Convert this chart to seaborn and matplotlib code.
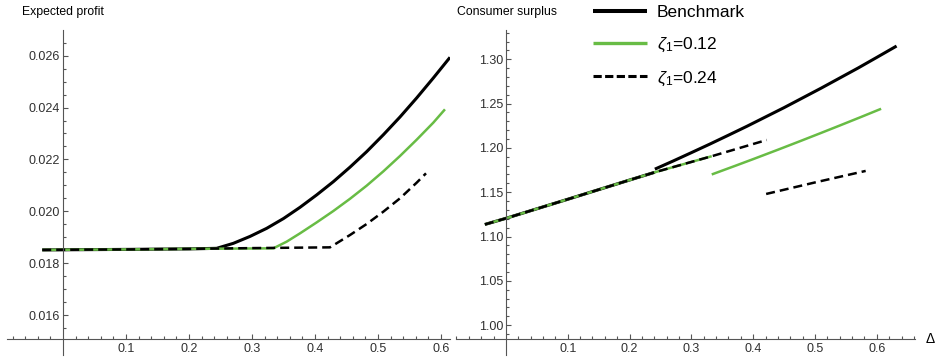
import numpy as np
import pandas as pd
import matplotlib
matplotlib.use("Agg")
import matplotlib.pyplot as plt
from matplotlib.lines import Line2D
import seaborn as sns

# ---- Expected profit against Delta ----
profit_bench_x = [-0.033, 0.10, 0.20, 0.2439, 0.2704, 0.2968, 0.3233, 0.3500,
                  0.3762, 0.4026, 0.4291, 0.4555, 0.4820, 0.5085, 0.5349,
                  0.5614, 0.5878, 0.6143]
profit_bench_y = [0.01851, 0.01853, 0.01855, 0.018571, 0.018764, 0.019030,
                  0.019342, 0.019720, 0.020152, 0.020630, 0.021141, 0.021700,
                  0.022298, 0.022950, 0.023635, 0.024370, 0.025139, 0.025936]

profit_z12_x = [-0.033, 0.10, 0.20, 0.3339, 0.3550, 0.3762, 0.4026, 0.4291,
                0.4555, 0.4820, 0.5085, 0.5349, 0.5614, 0.5878, 0.6063]
profit_z12_y = [0.01851, 0.01853, 0.01855, 0.018571, 0.018828, 0.019149,
                0.019570, 0.020010, 0.020480, 0.020987, 0.021540, 0.022131,
                0.022760, 0.023417, 0.023931]

profit_z24_x = [-0.033, 0.10, 0.20, 0.30, 0.4238, 0.4556, 0.4820, 0.5085,
                0.5349, 0.5614, 0.5762]
profit_z24_y = [0.01851, 0.01853, 0.01855, 0.01858, 0.018609, 0.019085,
                0.019509, 0.019985, 0.020499, 0.021103, 0.021463]

# ---- Consumer surplus against Delta (piecewise, with jumps) ----
cs_bench_low_x = [-0.034, 0.0, 0.10, 0.20, 0.241]
cs_bench_low_y = [1.1136, 1.1205, 1.1420, 1.1637, 1.1725]
cs_bench_high_x = [0.241, 0.27, 0.30, 0.33, 0.36, 0.39, 0.42, 0.45, 0.48,
                   0.51, 0.54, 0.57, 0.60, 0.632]
cs_bench_high_y = [1.1760, 1.1850, 1.1946, 1.2043, 1.2143, 1.2244, 1.2349,
                   1.2454, 1.2564, 1.2674, 1.2788, 1.2902, 1.3021, 1.3149]

cs_z12_low_x = [-0.034, 0.0, 0.10, 0.20, 0.241, 0.333]
cs_z12_low_y = [1.1136, 1.1205, 1.1420, 1.1637, 1.1725, 1.1906]
cs_z12_high_x = [0.333, 0.37, 0.40, 0.44, 0.476, 0.51, 0.54, 0.575, 0.607]
cs_z12_high_y = [1.1700, 1.1795, 1.1873, 1.1979, 1.2076, 1.2169, 1.2252,
                 1.2350, 1.2441]

cs_z24_low_x = [-0.034, 0.0, 0.10, 0.20, 0.241, 0.336, 0.422]
cs_z24_low_y = [1.1136, 1.1205, 1.1420, 1.1637, 1.1725, 1.1912, 1.2089]
cs_z24_high_x = [0.421, 0.50, 0.582]
cs_z24_high_y = [1.148, 1.161, 1.174]

series_labels = ["Benchmark", r"$\zeta_1$=0.12", r"$\zeta_1$=0.24"]
profit_tick_labels = ["0.016", "0.018", "0.020", "0.022", "0.024", "0.026"]
cs_tick_labels = ["1.00", "1.05", "1.10", "1.15", "1.20", "1.25", "1.30"]
delta_tick_labels = ["0.1", "0.2", "0.3", "0.4", "0.5", "0.6"]

sns.set_style("white")
plt.rcParams["font.family"] = ["Liberation Sans", "DejaVu Sans"]
plt.rcParams["mathtext.fontset"] = "custom"
plt.rcParams["mathtext.rm"] = "Liberation Sans"
plt.rcParams["mathtext.it"] = "Liberation Sans:italic"

BLACK = "#000000"
GREEN = "#68bc45"
AXIS = "#555555"
TEXT = "#303030"
DASH = (0, (3.6, 2.0))

fig = plt.figure(figsize=(9.35, 3.6), dpi=100)
ax1 = fig.add_axes([7 / 935, 5 / 360, 443 / 935, 325 / 360])
ax2 = fig.add_axes([456 / 935, 5 / 360, 459 / 935, 325 / 360])


def draw(ax, x, y, color, lw, ls="-"):
    df = pd.DataFrame({"delta": x, "value": y})
    sns.lineplot(data=df, x="delta", y="value", ax=ax, color=color,
                 linewidth=lw, linestyle=ls, sort=False, estimator=None,
                 solid_capstyle="butt", dash_capstyle="butt",
                 solid_joinstyle="round")


# benchmark underneath, then zeta=0.12, dashed zeta=0.24 on top
draw(ax1, profit_bench_x, profit_bench_y, BLACK, 2.2)
draw(ax1, profit_z12_x, profit_z12_y, GREEN, 1.8)
draw(ax1, profit_z24_x, profit_z24_y, BLACK, 1.8, DASH)

draw(ax2, cs_bench_low_x, cs_bench_low_y, BLACK, 2.2)
draw(ax2, cs_bench_high_x, cs_bench_high_y, BLACK, 2.2)
draw(ax2, cs_z12_low_x, cs_z12_low_y, GREEN, 1.8)
draw(ax2, cs_z12_high_x, cs_z12_high_y, GREEN, 1.8)
draw(ax2, cs_z24_low_x, cs_z24_low_y, BLACK, 1.8, DASH)
draw(ax2, cs_z24_high_x, cs_z24_high_y, BLACK, 1.8, DASH)


def style_axes(ax, xlim, ylim, y_origin, y_major, y_labels, y_minor):
    ax.set_xlim(*xlim)
    ax.set_ylim(*ylim)
    ax.set_facecolor("none")
    ax.grid(False)
    for s in ("top", "right"):
        ax.spines[s].set_visible(False)
    ax.spines["left"].set_position(("data", 0))
    ax.spines["bottom"].set_position(("data", y_origin))
    for s in ("left", "bottom"):
        ax.spines[s].set_color(AXIS)
        ax.spines[s].set_linewidth(0.8)
    x_major = np.round(np.arange(0.1, 0.61, 0.1), 2)
    x_minor = [v for v in np.round(np.arange(-0.08, xlim[1], 0.02), 2)
               if abs(v) > 1e-9 and np.min(np.abs(x_major - v)) > 1e-6]
    ax.set_xticks(x_major)
    ax.set_xticklabels(delta_tick_labels)
    ax.set_xticks(x_minor, minor=True)
    ax.set_yticks(y_major)
    ax.set_yticklabels(y_labels)
    ax.set_yticks(y_minor, minor=True)
    ax.tick_params(which="both", direction="in", color=AXIS, width=0.8,
                   bottom=True, left=True, top=False, right=False)
    ax.tick_params(which="major", length=3.6, labelsize=9, labelcolor=TEXT)
    ax.tick_params(which="minor", length=2.2)
    ax.tick_params(axis="x", which="major", pad=3)
    ax.tick_params(axis="y", which="major", pad=2)
    ax.set_xlabel("")
    ax.set_ylabel("")


p_major = np.round(np.arange(0.016, 0.0261, 0.002), 4)
p_minor = [v for v in np.round(np.arange(0.0155, 0.0270, 0.0005), 4)
           if np.min(np.abs(p_major - v)) > 1e-7]
style_axes(ax1, (-0.0889, 0.6143), (0.014458, 0.02699), 0.015075,
           p_major, profit_tick_labels, p_minor)

c_major = np.round(np.arange(1.00, 1.301, 0.05), 2)
c_minor = [v for v in np.round(np.arange(0.99, 1.335, 0.01), 2)
           if np.min(np.abs(c_major - v)) > 1e-6]
style_axes(ax2, (-0.0807, 0.6618), (0.9663, 1.333), 0.98425,
           c_major, cs_tick_labels, c_minor)

ax2.annotate("Δ", xy=(1.0, 0.98425), xycoords=("axes fraction", "data"),
             xytext=(11, 0), textcoords="offset pixels", ha="left",
             va="center", fontsize=10, color=BLACK, annotation_clip=False)

fig.text(22 / 935, 1 - 12 / 360, "Expected profit", ha="left", va="center",
         fontsize=8.8, color=BLACK)
fig.text(457 / 935, 1 - 12 / 360, "Consumer surplus", ha="left", va="center",
         fontsize=8.8, color=BLACK)

handles = [
    Line2D([], [], color=BLACK, linewidth=2.9, solid_capstyle="butt"),
    Line2D([], [], color=GREEN, linewidth=2.4, solid_capstyle="butt"),
    Line2D([], [], color=BLACK, linewidth=2.2, linestyle=(0, (2.7, 1.1)),
           dash_capstyle="butt"),
]
fig.legend(handles, series_labels, loc="upper left",
           bbox_to_anchor=(593 / 935, 1 - 5 / 360), frameon=False,
           fontsize=12.5, handlelength=3.1, handletextpad=0.57,
           labelspacing=0.89, borderpad=0, borderaxespad=0, labelcolor=BLACK)

fig.savefig("out.png", dpi=100)
